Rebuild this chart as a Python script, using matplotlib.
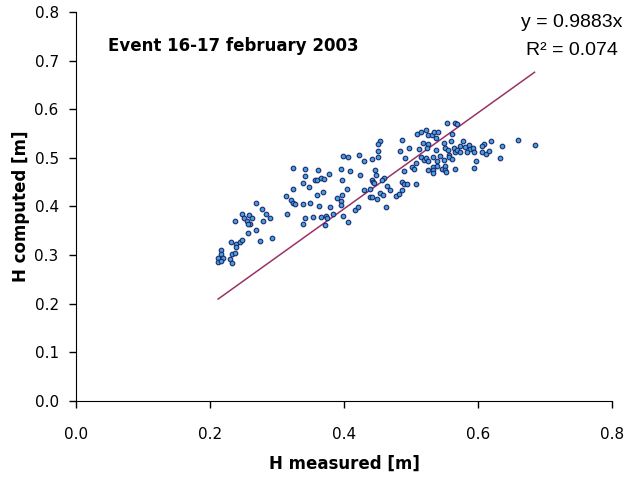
import numpy as np
import matplotlib
matplotlib.use("Agg")
import matplotlib.pyplot as plt
from matplotlib.ticker import FormatStrFormatter

# H measured [m] / H computed [m]
h_measured = [
    0.398, 0.406, 0.324, 0.342, 0.361, 0.378, 0.396, 0.342, 0.357, 0.360,
    0.366, 0.370, 0.397, 0.339, 0.347, 0.404, 0.324, 0.368, 0.360, 0.397,
    0.313, 0.320, 0.324, 0.327, 0.338, 0.349, 0.389, 0.395, 0.396, 0.363,
    0.379, 0.268, 0.278, 0.283, 0.289, 0.248, 0.258, 0.263, 0.250, 0.255,
    0.259, 0.256, 0.237, 0.279, 0.315, 0.341, 0.354, 0.366, 0.373, 0.374,
    0.383, 0.399, 0.339, 0.372, 0.406, 0.269, 0.257, 0.231, 0.238, 0.244,
    0.247, 0.239, 0.275, 0.293, 0.217, 0.216, 0.232, 0.237, 0.212, 0.220,
    0.229, 0.212, 0.216, 0.233,
    0.553, 0.565, 0.568, 0.508, 0.514, 0.522, 0.525, 0.531, 0.534, 0.540,
    0.537, 0.561, 0.486, 0.453, 0.450, 0.518, 0.525, 0.523, 0.549, 0.560,
    0.578, 0.586, 0.573, 0.580, 0.587, 0.592, 0.609, 0.606, 0.619, 0.635,
    0.660, 0.684, 0.496, 0.483, 0.451, 0.512, 0.537, 0.551, 0.555, 0.564,
    0.566, 0.569, 0.573, 0.584, 0.594, 0.606, 0.611, 0.616, 0.422, 0.430,
    0.442, 0.450, 0.491, 0.507, 0.514, 0.519, 0.522, 0.525, 0.532, 0.538,
    0.543, 0.549, 0.556, 0.557, 0.561, 0.633, 0.597, 0.594, 0.409, 0.423,
    0.446, 0.448, 0.442, 0.443, 0.445, 0.459, 0.456, 0.489, 0.501, 0.504,
    0.525, 0.532, 0.532, 0.533, 0.538, 0.546, 0.551, 0.550, 0.552, 0.565,
    0.430, 0.438, 0.464, 0.469, 0.486, 0.489, 0.494, 0.507, 0.453, 0.458,
    0.439, 0.442, 0.449, 0.477, 0.482, 0.486, 0.416, 0.420, 0.462,
]
h_computed = [
    0.504, 0.502, 0.479, 0.476, 0.475, 0.466, 0.477, 0.462, 0.455, 0.455,
    0.458, 0.457, 0.454, 0.448, 0.439, 0.436, 0.436, 0.429, 0.424, 0.424,
    0.421, 0.413, 0.407, 0.406, 0.406, 0.407, 0.418, 0.412, 0.402, 0.401,
    0.398, 0.407, 0.394, 0.384, 0.376, 0.385, 0.382, 0.377, 0.377, 0.371,
    0.364, 0.364, 0.370, 0.371, 0.384, 0.376, 0.379, 0.379, 0.381, 0.377,
    0.385, 0.381, 0.364, 0.362, 0.368, 0.352, 0.345, 0.327, 0.323, 0.327,
    0.331, 0.317, 0.328, 0.336, 0.310, 0.303, 0.303, 0.305, 0.293, 0.293,
    0.292, 0.285, 0.287, 0.284,
    0.571, 0.572, 0.569, 0.549, 0.553, 0.558, 0.547, 0.546, 0.553, 0.553,
    0.541, 0.549, 0.537, 0.535, 0.529, 0.531, 0.529, 0.520, 0.530, 0.534,
    0.534, 0.527, 0.524, 0.523, 0.519, 0.521, 0.528, 0.525, 0.534, 0.525,
    0.536, 0.527, 0.521, 0.514, 0.514, 0.519, 0.516, 0.521, 0.516, 0.520,
    0.512, 0.516, 0.512, 0.512, 0.512, 0.512, 0.508, 0.515, 0.506, 0.494,
    0.498, 0.501, 0.499, 0.490, 0.501, 0.496, 0.499, 0.493, 0.501, 0.493,
    0.504, 0.495, 0.506, 0.502, 0.497, 0.499, 0.493, 0.479, 0.472, 0.465,
    0.474, 0.464, 0.455, 0.451, 0.449, 0.458, 0.455, 0.473, 0.482, 0.478,
    0.475, 0.481, 0.474, 0.469, 0.484, 0.478, 0.483, 0.474, 0.471, 0.476,
    0.434, 0.436, 0.442, 0.434, 0.451, 0.447, 0.446, 0.447, 0.427, 0.424,
    0.420, 0.419, 0.415, 0.422, 0.425, 0.433, 0.393, 0.399, 0.398,
]

slope = 0.9883
r_squared = 0.074

plt.rcParams['font.family'] = ['DejaVu Sans']

fig = plt.figure(figsize=(6.28, 4.79), dpi=100)
ax = fig.add_axes([0.121, 0.163, 0.854, 0.812])

ax.scatter(h_measured, h_computed, s=11, facecolor='#45a0dc',
           edgecolor='#1c2a6e', linewidth=0.8, zorder=3)

# trendline through the origin, over the range of the data
xs = np.array([min(h_measured), max(h_measured)])
ax.plot(xs, slope * xs, color='#993366', linewidth=1.1, zorder=2)

ax.set_xlim(0, 0.8)
ax.set_ylim(0, 0.8)
ax.set_xticks(np.arange(0, 0.81, 0.2))
ax.set_yticks(np.arange(0, 0.81, 0.1))
ax.xaxis.set_major_formatter(FormatStrFormatter('%.1f'))
ax.yaxis.set_major_formatter(FormatStrFormatter('%.1f'))
ax.tick_params(direction='out', length=5, width=1, labelsize=11)
ax.tick_params(axis='x', pad=14)
ax.tick_params(axis='y', pad=7.5)
ax.spines['top'].set_visible(False)
ax.spines['right'].set_visible(False)

ax.set_xlabel('H measured [m]', fontsize=12, fontweight='bold', labelpad=9)
ax.set_ylabel('H computed [m]', fontsize=12, fontweight='bold', labelpad=3)

ax.text(0.0597, 0.913, 'Event 16-17 february 2003', transform=ax.transAxes,
        fontsize=12, fontweight='bold', va='center')
ax.text(0.925, 0.972, f'y = {slope}x', transform=ax.transAxes,
        fontsize=14, ha='center', va='center', family='Liberation Sans')
ax.text(0.925, 0.902, f'R² = {r_squared}', transform=ax.transAxes,
        fontsize=14, ha='center', va='center', family='Liberation Sans')

fig.savefig('out.png', dpi=100)
